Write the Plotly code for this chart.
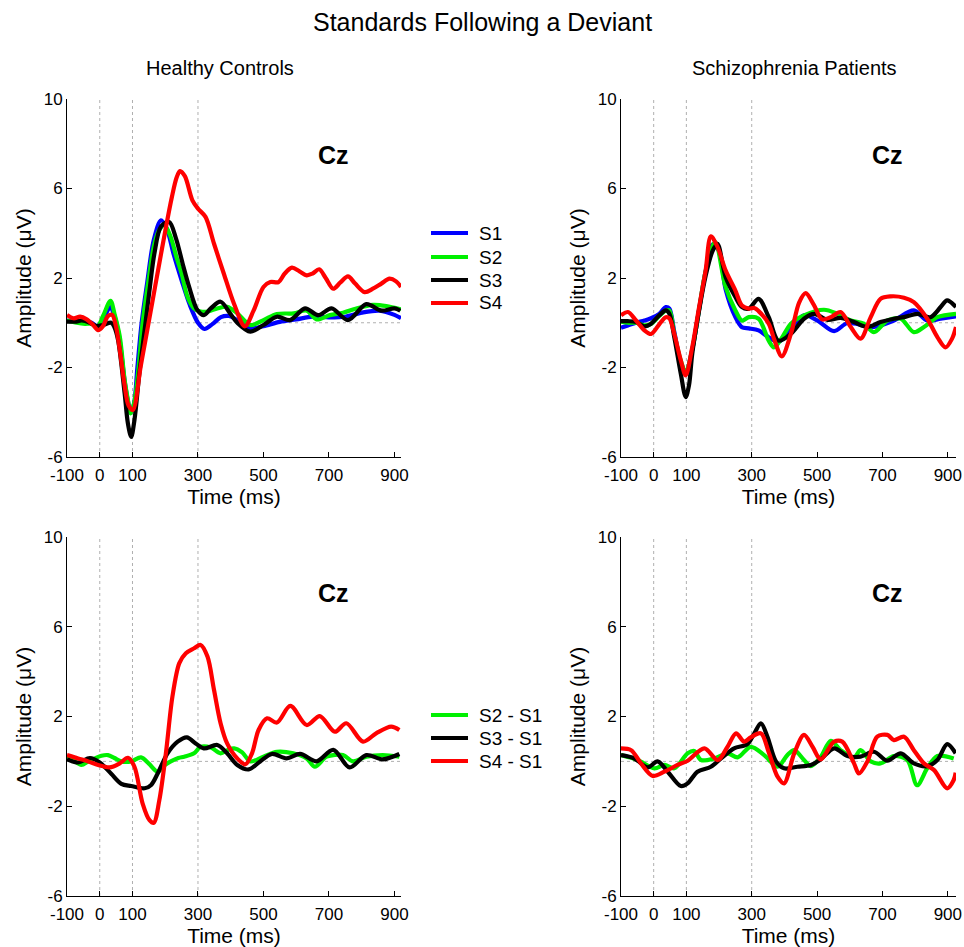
import plotly.graph_objects as go

# ---------------- data ----------------
# Healthy controls, standards S1..S4
hc_s1_t = [-100,-70,-45,-25,-8,10,32,45,60,76,86,95,105,115,128,145,165,187,205,225,250,275,300,320,345,370,395,420,460,500,550,600,650,700,750,800,855,900,920]
hc_s1_v = [0.1,0.05,0.05,0.0,-0.15,0.15,0.7,0.3,-0.7,-2.6,-3.5,-4.0,-3.6,-2.0,0.0,1.8,3.7,4.58,4.2,3.1,1.9,0.8,0.0,-0.28,-0.05,0.25,0.3,0.12,-0.25,-0.15,0.04,0.15,0.27,0.24,0.27,0.45,0.54,0.35,0.2]

hc_s2_t = [-100,-70,-45,-25,-8,10,33,45,61,76,86,94,105,118,131,148,165,180,197,215,235,250,268,288,308,330,359,389,420,460,500,541,592,632,662,703,743,784,834,875,920]
hc_s2_v = [0.1,0.0,-0.05,-0.05,-0.2,0.3,0.98,0.4,-0.6,-2.56,-3.45,-4.05,-3.6,-2.1,0.0,1.8,3.4,4.1,4.36,3.9,2.9,2.2,1.16,0.64,0.5,0.5,0.64,0.71,0.42,-0.1,0.12,0.39,0.42,0.54,0.15,0.34,0.45,0.64,0.8,0.75,0.6]

hc_s3_t = [-100,-75,-55,-30,-10,10,35,45,56,76,86,96,106,121,137,152,167,187,212,233,253,273,298,318,339,369,399,420,460,500,541,581,627,667,708,758,814,860,900,918]
hc_s3_v = [0.05,0.05,0.1,0.0,-0.15,-0.1,0.0,-0.2,-0.77,-3.15,-4.5,-5.1,-4.35,-2.26,-0.33,1.46,3.1,4.3,4.5,3.76,2.65,1.6,0.57,0.34,0.64,0.94,0.4,0.0,-0.4,-0.1,0.27,0.12,0.64,0.34,0.64,0.12,0.83,0.54,0.64,0.54]

hc_s4_t = [-100,-80,-60,-40,-20,-5,10,25,38,50,62,75,88,101,125,140,160,180,200,220,235,245,260,283,300,323,349,379,410,443,470,500,521,546,565,587,610,632,650,670,690,713,735,758,780,809,834,860,885,905,920]
hc_s4_v = [0.35,0.2,0.27,0.15,-0.1,-0.33,-0.15,0.3,0.35,-0.2,-1.3,-2.7,-3.7,-3.9,-1.95,-0.74,0.88,2.5,4.1,5.6,6.5,6.78,6.55,5.47,5.1,4.73,3.53,2.19,0.85,-0.16,0.55,1.6,1.82,1.82,2.2,2.46,2.3,2.12,2.2,2.39,2.0,1.52,1.8,2.07,1.75,1.37,1.52,1.75,1.97,1.85,1.6]

# Schizophrenia patients, standards S1..S4
sz_s1_t = [-100,-79,-54,-28,-8,17,37,48,63,83,98,118,139,159,180,200,220,250,270,291,321,352,382,412,460,501,552,593,643,674,735,796,837,878,925]
sz_s1_v = [-0.22,-0.12,0.0,0.1,0.2,0.4,0.7,0.63,-0.4,-1.8,-2.2,-1.2,0.6,2.3,3.5,3.2,1.5,0.25,-0.2,-0.25,-0.34,-0.65,-0.85,-0.4,0.33,0.1,-0.37,-0.01,-0.12,-0.19,0.1,0.55,0.1,0.18,0.28]

sz_s2_t = [-100,-79,-54,-28,-8,17,37,48,63,83,98,118,139,159,188,220,250,270,291,321,352,368,389,420,460,521,562,603,643,674,715,756,796,827,868,925]
sz_s2_v = [0.05,0.0,0.0,-0.12,-0.05,0.3,0.55,0.55,-0.5,-1.7,-2.2,-1.2,0.6,2.3,3.6,1.6,0.55,0.1,0.25,0.18,-0.8,-1.1,-0.75,-0.04,0.33,0.58,0.4,0.1,-0.04,-0.42,0.1,0.18,-0.42,-0.19,0.25,0.4]

sz_s3_t = [-100,-79,-54,-28,-8,17,37,48,63,83,98,108,118,139,159,180,195,220,250,270,291,321,352,382,420,460,491,532,572,613,654,694,735,766,807,847,878,898,925]
sz_s3_v = [0.07,0.07,0.03,-0.16,-0.04,0.33,0.55,0.4,-0.64,-2.28,-3.32,-2.8,-1.38,0.55,2.1,3.2,3.53,2.04,1.15,0.7,0.63,1.07,0.25,-0.8,-0.49,0.18,0.4,0.13,0.22,0.03,-0.19,0.03,0.18,0.25,0.4,0.25,0.7,1.0,0.7]

sz_s4_t = [-100,-79,-54,-28,-8,17,37,48,63,83,98,118,139,159,175,195,220,250,270,291,308,321,352,370,392,420,445,465,490,515,542,572,603,633,664,694,725,766,796,837,868,893,913,925]
sz_s4_v = [0.33,0.48,0.1,-0.34,-0.5,-0.07,0.25,0.2,-0.5,-1.68,-2.35,-1.09,0.7,2.34,3.86,3.4,2.34,1.44,0.77,0.63,0.66,0.52,-0.04,-0.8,-1.5,-0.49,0.9,1.32,0.8,0.15,0.25,0.48,-0.19,-0.71,0.25,1.07,1.18,1.12,0.92,0.18,-0.64,-1.1,-0.71,-0.19]

# Healthy controls, difference waves
hd_21_t = [-100,-80,-56,-35,-15,5,25,45,66,96,126,150,177,200,217,240,258,288,308,339,369,390,410,435,460,500,541,591,632,657,693,743,773,814,864,915]
hd_21_v = [0.24,0.05,-0.16,0.0,0.13,0.25,0.28,0.15,0.0,0.0,0.18,-0.1,-0.46,-0.15,0.0,0.15,0.21,0.36,0.65,0.62,0.36,0.5,0.58,0.4,0.0,0.21,0.43,0.36,0.13,-0.24,0.21,0.28,0.0,0.21,0.28,0.21]

hd_31_t = [-100,-66,-30,0,35,66,96,137,157,177,207,238,266,293,318,359,389,420,455,490,526,571,612,662,713,763,814,864,915]
hd_31_v = [0.1,-0.05,0.15,-0.05,-0.55,-1.0,-1.1,-1.2,-1.05,-0.54,0.36,0.88,1.07,0.8,0.58,0.73,0.36,-0.16,-0.36,0.0,0.33,0.13,0.33,0.0,0.51,-0.27,0.28,0.09,0.33]

hd_41_t = [-100,-66,-35,-5,30,61,86,106,131,152,165,182,202,222,243,263,288,308,329,349,369,389,420,445,465,485,511,541,582,632,672,718,753,804,844,890,915]
hd_41_v = [0.28,0.13,0.0,-0.16,-0.27,-0.09,0.16,-0.24,-1.88,-2.62,-2.74,-1.73,0.36,2.89,4.38,4.82,5.04,5.19,4.67,3.18,1.7,0.8,0.13,-0.13,0.36,1.4,1.92,1.73,2.47,1.62,2.02,1.32,1.7,0.88,1.25,1.55,1.4]

# Schizophrenia patients, difference waves
sd_21_t = [-100,-49,2,33,63,104,124,145,185,226,257,297,338,379,409,430,460,481,511,542,572,613,633,664,694,735,776,806,837,868,918]
sd_21_v = [0.28,0.06,-0.31,-0.16,-0.31,0.36,0.46,0.06,0.13,0.36,0.18,0.65,0.28,-0.24,0.28,0.5,0.06,-0.21,0.2,0.92,0.5,0.18,0.5,0.0,-0.09,0.24,0.06,-1.06,-0.31,0.24,0.13]

sd_31_t = [-100,-59,-18,12,43,83,104,134,175,206,246,287,308,328,348,374,399,440,481,511,552,593,633,674,715,756,796,837,868,898,924]
sd_31_v = [0.28,0.13,-0.27,0.0,-0.46,-1.1,-0.98,-0.46,-0.24,0.13,0.58,0.77,1.25,1.7,1.1,0.0,-0.31,-0.24,-0.16,0.09,0.58,0.24,0.21,0.43,0.03,0.36,-0.09,-0.21,0.06,0.77,0.36]

sd_41_t = [-100,-69,-39,-3,33,73,104,155,196,226,252,277,297,328,353,379,399,430,460,486,511,552,577,613,628,654,684,715,735,766,796,827,858,898,918,924]
sd_41_v = [0.58,0.5,-0.09,-0.65,-0.46,-0.16,0.03,0.58,0.06,0.65,1.25,0.88,1.07,1.25,0.36,-0.68,-0.98,0.36,1.18,0.65,0.09,0.88,0.88,-0.09,-0.54,0.0,1.1,1.18,0.95,1.1,0.5,-0.09,-0.39,-1.2,-0.83,-0.5]

std_names = ["S1", "S2", "S3", "S4"]
diff_names = ["S2 - S1", "S3 - S1", "S4 - S1"]
x_ticks = [-100, 0, 100, 300, 500, 700, 900]
y_ticks = [10, 6, 2, -2, -6]
ref_times = [0, 100, 300]
col_titles = ["Healthy Controls", "Schizophrenia Patients"]
main_title = "Standards Following a Deviant"
electrode = "Cz"

# ---------------- styling ----------------
W, H = 964, 947
FONT = "Liberation Sans, Arial, sans-serif"
C_STD = ["#0000ff", "#00f000", "#000000", "#ff0000"]
C_DIFF = ["#00f000", "#000000", "#ff0000"]
LW = 4.2

def px_x(a, b):
    return [a / W, b / W]

def px_y(top, bottom):
    return [1 - bottom / H, 1 - top / H]

panels = [
    ("x", "y", px_x(67, 401), px_y(99, 457), [-100, 920]),
    ("x2", "y2", px_x(621, 956), px_y(99, 457), [-100, 925]),
    ("x3", "y3", px_x(67, 401), px_y(537, 896), [-100, 920]),
    ("x4", "y4", px_x(621, 956), px_y(537, 896), [-100, 925]),
]

fig = go.Figure()

series = [
    (0, [(hc_s1_t, hc_s1_v), (hc_s2_t, hc_s2_v), (hc_s3_t, hc_s3_v), (hc_s4_t, hc_s4_v)], std_names, C_STD),
    (1, [(sz_s1_t, sz_s1_v), (sz_s2_t, sz_s2_v), (sz_s3_t, sz_s3_v), (sz_s4_t, sz_s4_v)], std_names, C_STD),
    (2, [(hd_21_t, hd_21_v), (hd_31_t, hd_31_v), (hd_41_t, hd_41_v)], diff_names, C_DIFF),
    (3, [(sd_21_t, sd_21_v), (sd_31_t, sd_31_v), (sd_41_t, sd_41_v)], diff_names, C_DIFF),
]

for pi, data, names, cols in series:
    xa, ya = panels[pi][0], panels[pi][1]
    for (t, v), nm, c in zip(data, names, cols):
        fig.add_trace(go.Scatter(x=t, y=v, mode="lines", name=nm, showlegend=False,
                                 line=dict(color=c, width=LW, shape="spline", smoothing=0.9),
                                 xaxis=xa, yaxis=ya, hoverinfo="skip"))

shapes = []
annotations = []
for i, (xa, ya, xd, yd, xr) in enumerate(panels):
    sfx = "" if i == 0 else str(i + 1)
    ax = dict(domain=xd, range=xr, tickvals=x_ticks, ticktext=[str(v) for v in x_ticks],
              showline=True, linecolor="black", linewidth=1, ticks="inside", ticklen=5,
              tickcolor="black", showgrid=False, zeroline=False, automargin=False,
              anchor=ya, tickfont=dict(family=FONT, size=17, color="black"),
              ticklabelstandoff=3,
              title=dict(text="Time (ms)", font=dict(family=FONT, size=21, color="black"), standoff=2))
    ay = dict(domain=yd, range=[-6, 10], tickvals=y_ticks, ticktext=[str(v) for v in y_ticks],
              showline=True, linecolor="black", linewidth=1, ticks="inside", ticklen=5,
              tickcolor="black", showgrid=False, zeroline=False, automargin=False,
              anchor=xa, tickfont=dict(family=FONT, size=17, color="black"),
              title=dict(text="Amplitude (μV)", font=dict(family=FONT, size=21, color="black"), standoff=6))
    fig.layout["xaxis" + sfx] = ax
    fig.layout["yaxis" + sfx] = ay
    for rt in ref_times:
        shapes.append(dict(type="line", xref=xa, yref=ya, x0=rt, x1=rt, y0=-6, y1=10,
                           line=dict(color="#b0b0b0", width=1, dash="dot"), layer="below"))
    shapes.append(dict(type="line", xref=xa, yref=ya, x0=xr[0], x1=xr[1], y0=0, y1=0,
                       line=dict(color="#b0b0b0", width=1, dash="dot"), layer="below"))
    annotations.append(dict(text="<b>%s</b>" % electrode, x=715, y=7.5, xref=xa, yref=ya,
                            xanchor="center", yanchor="middle",
                            showarrow=False, font=dict(family=FONT, size=25, color="black")))

annotations.append(dict(text=main_title, x=482 / W, y=1 - 22 / H, xref="paper", yref="paper",
                        xanchor="center", yanchor="middle",
                        showarrow=False, font=dict(family=FONT, size=25, color="black")))
annotations.append(dict(text=col_titles[0], x=220 / W, y=1 - 68 / H, xref="paper", yref="paper",
                        xanchor="center", yanchor="middle",
                        showarrow=False, font=dict(family=FONT, size=20, color="black")))
annotations.append(dict(text=col_titles[1], x=794 / W, y=1 - 68 / H, xref="paper", yref="paper",
                        xanchor="center", yanchor="middle",
                        showarrow=False, font=dict(family=FONT, size=20, color="black")))

# legends (key lines + labels, placed in page pixels)
legend_std_y = [233, 257, 280, 303]
legend_diff_y = [715, 738, 761]
for names, cols, ys, fs in [(std_names, C_STD, legend_std_y, 19), (diff_names, C_DIFF, legend_diff_y, 19)]:
    for nm, c, yy in zip(names, cols, ys):
        shapes.append(dict(type="line", xref="paper", yref="paper", x0=431 / W, x1=468 / W,
                           y0=1 - yy / H, y1=1 - yy / H, line=dict(color=c, width=LW)))
        annotations.append(dict(text=nm, x=477 / W, y=1 - yy / H, xref="paper", yref="paper",
                                xanchor="left", yanchor="middle", showarrow=False,
                                font=dict(family=FONT, size=fs, color="black")))

fig.update_layout(
    width=W, height=H, margin=dict(l=0, r=0, t=0, b=0),
    paper_bgcolor="white", plot_bgcolor="white",
    shapes=shapes, annotations=annotations, showlegend=False,
)

fig.write_html("out.html")
